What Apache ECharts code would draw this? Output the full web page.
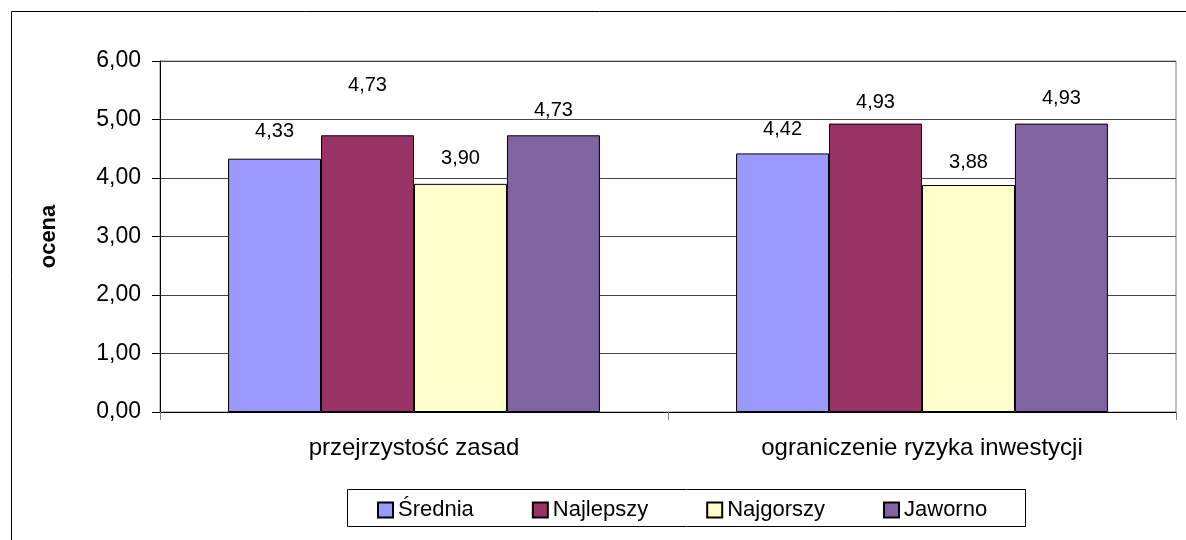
<!DOCTYPE html>
<html>
<head>
<meta charset="utf-8">
<script src="https://cdn.jsdelivr.net/npm/echarts@6/dist/echarts.min.js"></script>
<style>
html,body{margin:0;padding:0;background:#fff;}
#chart{width:1186px;height:540px;}
</style>
</head>
<body>
<div id="chart"></div>
<script>
const categories = ['przejrzystość zasad', 'ograniczenie ryzyka inwestycji'];
const seriesNames = ['Średnia', 'Najlepszy', 'Najgorszy', 'Jaworno'];
const sredniaValues = [4.33, 4.42];
const najlepszyValues = [4.73, 4.93];
const najgorszyValues = [3.90, 3.88];
const jaworznoValues = [4.73, 4.93];
const yTicks = [0, 1, 2, 3, 4, 5, 6];
const axisTitle = 'ocena';

const values = [sredniaValues, najlepszyValues, najgorszyValues, jaworznoValues];
const colors = ['#9999FF', '#993366', '#FFFFCC', '#8064A2'];
const labelDistance = [[17, 14], [40, 11], [15, 13], [15, 15]];
const FONT = '"Liberation Sans", Arial, sans-serif';
const fmt = v => v.toFixed(2).replace('.', ',');

const chart = echarts.init(document.getElementById('chart'), null, {renderer: 'canvas'});
chart.setOption({
  animation: false,
  backgroundColor: '#fff',
  textStyle: {fontFamily: FONT},
  graphic: [
    {type: 'rect', shape: {x: 11.5, y: 11.5, width: 1200, height: 560}, style: {fill: 'none', stroke: '#000', lineWidth: 1}, z: 100},
    {type: 'rect', shape: {x: 347.5, y: 489.5, width: 678, height: 37}, style: {fill: '#fff', stroke: '#000', lineWidth: 1}, z: 0}
  ],
  grid: {left: 160, right: 10, top: 61, bottom: 128, show: true, borderColor: '#808080', borderWidth: 1, backgroundColor: '#fff'},
  legend: {
    data: seriesNames,
    left: 377,
    top: 499,
    padding: 0,
    itemWidth: 15,
    itemHeight: 15,
    itemGap: 58,
    icon: 'rect',
    textStyle: {fontSize: 22, color: '#000', fontFamily: FONT},
    z: 10
  },
  xAxis: {
    type: 'category',
    data: categories,
    axisLine: {lineStyle: {color: '#000', width: 1}},
    axisTick: {show: true, length: 8, lineStyle: {color: '#808080'}},
    axisLabel: {fontSize: 24, color: '#000', margin: 24, fontFamily: FONT},
    splitLine: {show: false}
  },
  yAxis: {
    type: 'value',
    min: yTicks[0],
    max: yTicks[yTicks.length - 1],
    interval: 1,
    name: axisTitle,
    nameLocation: 'middle',
    nameGap: 100,
    nameTextStyle: {fontSize: 22, fontWeight: 'bold', color: '#000', fontFamily: FONT},
    axisLine: {show: true, lineStyle: {color: '#000', width: 1}},
    axisTick: {show: true, length: 8, lineStyle: {color: '#000'}},
    axisLabel: {fontSize: 23, color: '#000', margin: 19, formatter: v => fmt(v), fontFamily: FONT},
    splitLine: {show: true, lineStyle: {color: '#444', width: 1}}
  },
  series: seriesNames.map((name, i) => ({
    name: name,
    type: 'bar',
    barGap: '0%',
    barCategoryGap: '26.8%',
    itemStyle: {color: colors[i], borderColor: '#000', borderWidth: 1},
    data: values[i].map((v, j) => ({
      value: v,
      label: {show: true, position: 'top', distance: labelDistance[i][j], formatter: p => fmt(p.value), fontSize: 20, color: '#000', fontFamily: FONT}
    }))
  }))
});
</script>
</body>
</html>
